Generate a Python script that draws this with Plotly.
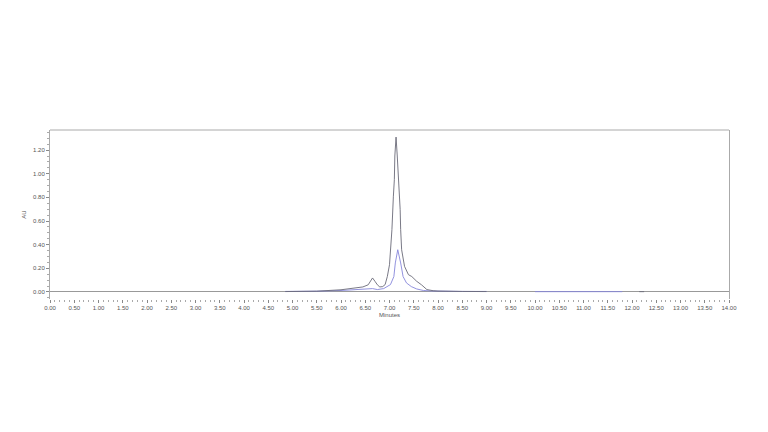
import plotly.graph_objects as go

# channel 1 (dark trace)
t_dark = [4.85, 5.0, 5.5, 6.0, 6.14, 6.32, 6.45, 6.56, 6.61, 6.65, 6.70, 6.75, 6.80,
          6.86, 6.91, 6.955, 7.0, 7.05, 7.08, 7.10, 7.11, 7.135, 7.16, 7.19, 7.20,
          7.22, 7.23, 7.25, 7.31, 7.39, 7.46, 7.56, 7.66, 7.77, 7.9, 8.0, 8.5, 9.0]
au_dark = [0.003, 0.004, 0.006, 0.018, 0.025, 0.034, 0.042, 0.06, 0.095, 0.118, 0.09,
           0.06, 0.042, 0.045, 0.062, 0.13, 0.23, 0.527, 0.81, 0.95, 1.15, 1.31, 1.15,
           0.95, 0.81, 0.696, 0.527, 0.357, 0.216, 0.146, 0.13, 0.09, 0.06, 0.02, 0.01,
           0.007, 0.004, 0.003]

# channel 2 (blue trace)
t_blue = [4.85, 5.0, 5.5, 6.0, 6.3, 6.53, 6.65, 6.75, 6.88, 7.02, 7.09, 7.12, 7.17,
          7.23, 7.28, 7.35, 7.45, 7.56, 7.7, 7.85, 8.0, 8.5, 9.0]
au_blue = [0.004, 0.004, 0.006, 0.012, 0.017, 0.02, 0.028, 0.02, 0.028, 0.062, 0.13,
           0.245, 0.357, 0.245, 0.13, 0.076, 0.045, 0.025, 0.012, 0.008, 0.006, 0.004,
           0.004]

# late baseline pieces
t_blue2 = [10.0, 11.8]
au_blue2 = [0.002, 0.002]
t_dark2 = [12.15, 12.25]
au_dark2 = [0.002, 0.002]

dark = "#6a6a78"
blue = "#8686da"

fig = go.Figure()
fig.add_trace(go.Scatter(x=t_blue, y=au_blue, mode="lines", line=dict(color=blue, width=0.9)))
fig.add_trace(go.Scatter(x=t_dark, y=au_dark, mode="lines", line=dict(color=dark, width=0.9)))
fig.add_trace(go.Scatter(x=t_blue2, y=au_blue2, mode="lines", line=dict(color=blue, width=0.9)))
fig.add_trace(go.Scatter(x=t_dark2, y=au_dark2, mode="lines", line=dict(color=dark, width=0.9)))

tick_font = dict(family="Liberation Sans, Arial", size=6, color="#555")
fig.update_layout(
    width=768, height=432,
    margin=dict(l=42, r=47, t=122, b=141),
    paper_bgcolor="white", plot_bgcolor="white",
    showlegend=False,
    xaxis=dict(range=[0, 14], dtick=0.5, tick0=0, tickformat=".2f",
               showgrid=False, zeroline=False, showline=False,
               ticks="outside", ticklen=3, tickcolor="#888", tickfont=tick_font,
               minor=dict(dtick=0.1, ticks="outside", ticklen=2, tickcolor="#aaa"),
               title=dict(text="Minutes", font=tick_font, standoff=2)),
    yaxis=dict(range=[-0.06, 1.37], dtick=0.2, tick0=0, tickformat=".2f",
               showgrid=False, zeroline=True, zerolinecolor="#999", zerolinewidth=1,
               showline=True, linecolor="#aaa", linewidth=1, mirror=True,
               ticks="outside", ticklen=3, tickcolor="#888", tickfont=tick_font,
               minor=dict(dtick=0.05, ticks="outside", ticklen=2, tickcolor="#aaa"),
               title=dict(text="AU", font=tick_font, standoff=6)),
    shapes=[dict(type="line", xref="paper", yref="paper", x0=0, x1=1, y0=1, y1=1,
                 line=dict(color="#aaa", width=1))],
)

fig.write_html("out.html")
